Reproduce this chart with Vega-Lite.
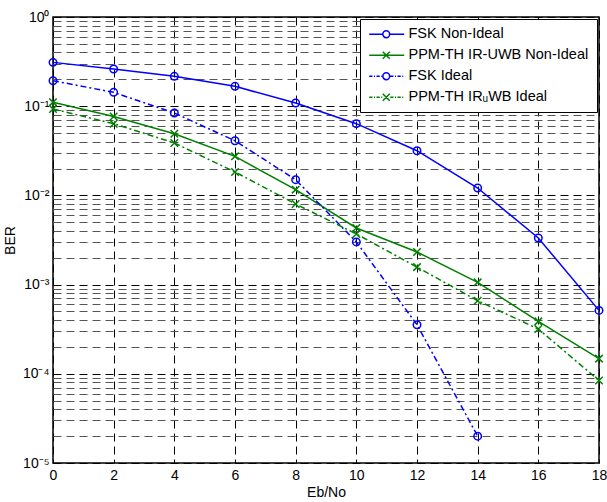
{
  "$schema": "https://vega.github.io/schema/vega-lite/v6.json",
  "width": 546,
  "height": 446,
  "autosize": "none",
  "padding": {"left": 53, "top": 17, "right": 8, "bottom": 39},
  "background": "white",
  "config": {
    "font": "Liberation Sans",
    "view": {"stroke": "black", "strokeWidth": 1.5},
    "axis": {
      "domain": false,
      "ticks": false,
      "labelFont": "Liberation Sans",
      "labelFontSize": 14,
      "labelColor": "black",
      "titleFont": "Liberation Sans",
      "titleFontSize": 14,
      "titleFontWeight": "normal",
      "titleColor": "black",
      "grid": true,
      "gridDash": [8, 5],
      "gridColor": "black",
      "gridWidth": 1
    }
  },
  "data": {
    "values": [
      {"series": "FSK Non-Ideal", "ebno": 0, "ber": 0.310},
      {"series": "FSK Non-Ideal", "ebno": 2, "ber": 0.261},
      {"series": "FSK Non-Ideal", "ebno": 4, "ber": 0.216},
      {"series": "FSK Non-Ideal", "ebno": 6, "ber": 0.167},
      {"series": "FSK Non-Ideal", "ebno": 8, "ber": 0.1086},
      {"series": "FSK Non-Ideal", "ebno": 10, "ber": 0.0637},
      {"series": "FSK Non-Ideal", "ebno": 12, "ber": 0.0317},
      {"series": "FSK Non-Ideal", "ebno": 14, "ber": 0.0121},
      {"series": "FSK Non-Ideal", "ebno": 16, "ber": 0.00333},
      {"series": "FSK Non-Ideal", "ebno": 18, "ber": 0.000514},
      {"series": "PPM-TH IR-UWB Non-Ideal", "ebno": 0, "ber": 0.111},
      {"series": "PPM-TH IR-UWB Non-Ideal", "ebno": 2, "ber": 0.0768},
      {"series": "PPM-TH IR-UWB Non-Ideal", "ebno": 4, "ber": 0.0492},
      {"series": "PPM-TH IR-UWB Non-Ideal", "ebno": 6, "ber": 0.0274},
      {"series": "PPM-TH IR-UWB Non-Ideal", "ebno": 8, "ber": 0.0116},
      {"series": "PPM-TH IR-UWB Non-Ideal", "ebno": 10, "ber": 0.00431},
      {"series": "PPM-TH IR-UWB Non-Ideal", "ebno": 12, "ber": 0.00232},
      {"series": "PPM-TH IR-UWB Non-Ideal", "ebno": 14, "ber": 0.00106},
      {"series": "PPM-TH IR-UWB Non-Ideal", "ebno": 16, "ber": 0.000387},
      {"series": "PPM-TH IR-UWB Non-Ideal", "ebno": 18, "ber": 0.000148},
      {"series": "FSK Ideal", "ebno": 0, "ber": 0.193},
      {"series": "FSK Ideal", "ebno": 2, "ber": 0.143},
      {"series": "FSK Ideal", "ebno": 4, "ber": 0.0839},
      {"series": "FSK Ideal", "ebno": 6, "ber": 0.0410},
      {"series": "FSK Ideal", "ebno": 8, "ber": 0.0150},
      {"series": "FSK Ideal", "ebno": 10, "ber": 0.00301},
      {"series": "FSK Ideal", "ebno": 12, "ber": 0.000355},
      {"series": "FSK Ideal", "ebno": 14, "ber": 0.00002},
      {"series": "PPM-TH IRᵤWB Ideal", "ebno": 0, "ber": 0.093},
      {"series": "PPM-TH IRᵤWB Ideal", "ebno": 2, "ber": 0.0637},
      {"series": "PPM-TH IRᵤWB Ideal", "ebno": 4, "ber": 0.0387},
      {"series": "PPM-TH IRᵤWB Ideal", "ebno": 6, "ber": 0.0183},
      {"series": "PPM-TH IRᵤWB Ideal", "ebno": 8, "ber": 0.00801},
      {"series": "PPM-TH IRᵤWB Ideal", "ebno": 10, "ber": 0.0037},
      {"series": "PPM-TH IRᵤWB Ideal", "ebno": 12, "ber": 0.00157},
      {"series": "PPM-TH IRᵤWB Ideal", "ebno": 14, "ber": 0.00066},
      {"series": "PPM-TH IRᵤWB Ideal", "ebno": 16, "ber": 0.000318},
      {"series": "PPM-TH IRᵤWB Ideal", "ebno": 18, "ber": 0.000084}
    ]
  },
  "encoding": {
    "x": {
      "field": "ebno",
      "type": "quantitative",
      "title": "Eb/No",
      "scale": {"domain": [0, 18], "nice": false, "zero": false},
      "axis": {
        "values": [0, 2, 4, 6, 8, 10, 12, 14, 16, 18],
        "format": "d",
        "labelPadding": 5,
        "titlePadding": 3,
        "labelFlush": false
      }
    },
    "y": {
      "field": "ber",
      "type": "quantitative",
      "title": "BER",
      "scale": {"type": "log", "domain": [0.00001, 1], "nice": false},
      "axis": {
        "values": [0.00001, 0.00002, 0.00003, 0.00004, 0.00005, 0.00006, 0.00007, 0.00008, 0.00009,
                   0.0001, 0.0002, 0.0003, 0.0004, 0.0005, 0.0006, 0.0007, 0.0008, 0.0009,
                   0.001, 0.002, 0.003, 0.004, 0.005, 0.006, 0.007, 0.008, 0.009,
                   0.01, 0.02, 0.03, 0.04, 0.05, 0.06, 0.07, 0.08, 0.09,
                   0.1, 0.2, 0.3, 0.4, 0.5, 0.6, 0.7, 0.8, 0.9, 1],
        "labelExpr": "datum.value == 1 ? '10⁰' : datum.value == 0.1 ? '10⁻¹' : datum.value == 0.01 ? '10⁻²' : datum.value == 0.001 ? '10⁻³' : datum.value == 0.0001 ? '10⁻⁴' : datum.value == 0.00001 ? '10⁻⁵' : ''",
        "labelPadding": 4,
        "labelFlush": false,
        "labelOverlap": false,
        "titlePadding": 5,
        "gridColor": {
          "condition": {"test": "datum.value == 1 || datum.value == 0.1 || datum.value == 0.01 || datum.value == 0.001 || datum.value == 0.0001 || datum.value == 0.00001", "value": "#000000"},
          "value": "#555555"
        }
      }
    }
  },
  "layer": [
    {
      "transform": [{"filter": {"field": "series", "oneOf": ["FSK Non-Ideal", "PPM-TH IR-UWB Non-Ideal"]}}],
      "mark": {"type": "line", "strokeWidth": 1.5},
      "encoding": {
        "color": {
          "field": "series",
          "type": "nominal",
          "scale": {
            "domain": ["FSK Non-Ideal", "PPM-TH IR-UWB Non-Ideal", "FSK Ideal", "PPM-TH IRᵤWB Ideal"],
            "range": ["#0000ff", "#008000", "#0000ff", "#008000"]
          },
          "legend": {
            "title": null,
            "orient": "top-right",
            "offset": 2,
            "padding": 8,
            "strokeColor": "black",
            "fillColor": "white",
            "cornerRadius": 0,
            "labelFont": "Liberation Sans",
            "labelFontSize": 14.5,
            "labelColor": "black",
            "labelLimit": 400,
            "labelOffset": 26,
            "symbolSize": 100,
            "symbolStrokeWidth": 1.5,
            "symbolOpacity": 1,
            "symbolFillColor": "transparent",
            "rowPadding": 6,
            "symbolType": {
              "expr": "datum.value === 'FSK Non-Ideal' ? 'M-1.2,0L1.52,0M2.88,0L5.8,0M2.88,0A0.68,0.68,0,1,1,1.52,0A0.68,0.68,0,1,1,2.88,0' : datum.value === 'PPM-TH IR-UWB Non-Ideal' ? 'M-1.2,0L5.8,0M1.5,-0.7L2.9,0.7M1.5,0.7L2.9,-0.7' : datum.value === 'FSK Ideal' ? 'M-1.2,0L-0.55,0M-0.25,0L-0.05,0M0.25,0L0.9,0M1.2,0L1.4,0M3.0,0L3.65,0M3.95,0L4.15,0M4.45,0L5.1,0M5.4,0L5.6,0M2.88,0A0.68,0.68,0,1,1,1.52,0A0.68,0.68,0,1,1,2.88,0' : 'M-1.2,0L-0.55,0M-0.25,0L-0.05,0M0.25,0L0.9,0M1.2,0L1.4,0M3.0,0L3.65,0M3.95,0L4.15,0M4.45,0L5.1,0M5.4,0L5.6,0M1.5,-0.7L2.9,0.7M1.5,0.7L2.9,-0.7'"
            }
          }
        }
      }
    },
    {
      "transform": [{"filter": {"field": "series", "oneOf": ["FSK Ideal", "PPM-TH IRᵤWB Ideal"]}}],
      "mark": {"type": "line", "strokeWidth": 1.5, "strokeDash": [6, 3, 2, 3]},
      "encoding": {
        "color": {"field": "series", "type": "nominal", "legend": null}
      }
    },
    {
      "transform": [{"filter": {"field": "series", "oneOf": ["FSK Non-Ideal", "FSK Ideal"]}}],
      "mark": {"type": "point", "shape": "circle", "filled": false, "strokeWidth": 1.5, "size": 56, "opacity": 1},
      "encoding": {
        "color": {"field": "series", "type": "nominal", "legend": null}
      }
    },
    {
      "transform": [{"filter": {"field": "series", "oneOf": ["PPM-TH IR-UWB Non-Ideal", "PPM-TH IRᵤWB Ideal"]}}],
      "mark": {"type": "point", "shape": "M-1,-1L1,1M-1,1L1,-1", "filled": false, "strokeWidth": 1.5, "size": 56, "opacity": 1},
      "encoding": {
        "color": {"field": "series", "type": "nominal", "legend": null}
      }
    }
  ]
}
